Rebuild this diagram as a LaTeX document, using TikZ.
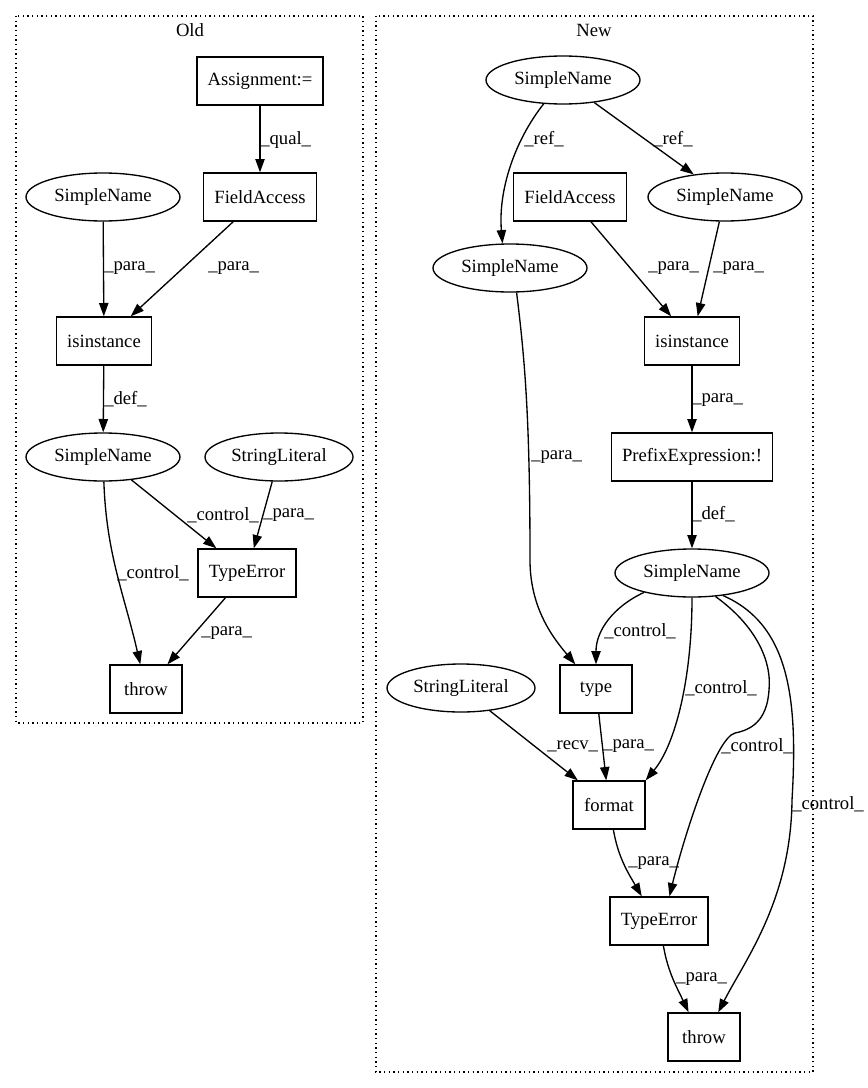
\documentclass[tikz,border=0pt]{standalone}
\usepackage{fontspec}
\setmainfont{Liberation Serif}
\usetikzlibrary{shapes.geometric,arrows.meta}

\begin{document}
\begin{tikzpicture}[x=0.75pt,y=-0.75pt,font=\fontsize{14pt}{16pt}\selectfont,
  box/.style={draw,rectangle,line width=1pt,minimum width=54pt,minimum height=36pt,inner xsep=8pt,inner ysep=0pt},
  oval/.style={draw,ellipse,line width=1pt,minimum width=115.5pt,minimum height=36pt,inner sep=0pt},
  edge/.style={line width=1pt,-{Triangle[length=10pt,width=7pt]}},
  lbl/.style={anchor=west,inner sep=0pt},
  cluster/.style={line width=1pt,dash pattern=on 1pt off 2.5pt}]
\useasboundingbox (0,0) rectangle (867,1088);
\draw[cluster] (16,16) rectangle (363,723);
\draw[cluster] (376,16) rectangle (813,1072);
\node (old) at (190,30) {Old};
\node (new) at (594,30) {New};
% old version
\node[box] (asgO) at (260,81) {Assignment:=};
\node[box] (faO) at (260,197) {FieldAccess};
\node[oval] (snO1) at (103,197) {SimpleName};
\node[box] (isO) at (104,341) {isinstance};
\node[oval] (snO2) at (103,457) {SimpleName};
\node[oval,minimum width=111pt] (slO) at (279,457) {StringLiteral};
\node[box] (teO) at (247,573) {TypeError};
\node[box] (thrO) at (146,689) {throw};
\draw[edge] (asgO) -- (faO);
\draw[edge] (snO1) -- (isO);
\draw[edge] (faO) -- (isO);
\draw[edge] (isO) -- (snO2);
\draw[edge] (snO2) -- (teO);
\draw[edge] (slO) -- (teO);
\draw[edge] (snO2) to[out=-88,in=103] (thrO);
\draw[edge] (teO) -- (thrO);
\node[lbl] (lqual) at (260,140) {\_qual\_};
\node[lbl] (lpO1) at (104,268) {\_para\_};
\node[lbl] (lpO2) at (208,268) {\_para\_};
\node[lbl] (ldefO) at (104,399) {\_def\_};
\node[lbl] (lcO1) at (187,515) {\_control\_};
\node[lbl] (lpO3) at (263,515) {\_para\_};
\node[lbl] (lcO2) at (117,573) {\_control\_};
\node[lbl] (lpO4) at (201,633) {\_para\_};
% new version
\node[oval] (snT) at (563,80) {SimpleName};
\node[box] (faN) at (570,197) {FieldAccess};
\node[oval] (snR) at (725,197) {SimpleName};
\node[oval] (snL) at (510,268) {SimpleName};
\node[box] (isN) at (692,341) {isinstance};
\node[box] (pre) at (692,457) {PrefixExpression:!};
\node[oval] (snB) at (692,573) {SimpleName};
\node[box] (typ) at (596,689) {type};
\node[oval,minimum width=111pt] (slN) at (461,688) {StringLiteral};
\node[box] (fmt) at (609,805) {format};
\node[box] (teN) at (659,921) {TypeError};
\node[box] (thrN) at (704,1037) {throw};
\draw[edge] (snT.-129) .. controls (515,140) and (498,190) .. (snL.107);
\draw[edge] (snT) -- (snR);
\draw[edge] (faN) -- (isN);
\draw[edge] (snR) -- (isN);
\draw[edge] (isN) -- (pre);
\draw[edge] (snL.-75) .. controls (525,360) and (530,420) .. (530,560)
  .. controls (530,610) and (555,640) .. (typ.130);
\draw[edge] (pre) -- (snB);
\draw[edge] (snB.-158) to[out=-155,in=90] (typ.north);
\draw[edge] (snB.south) .. controls (692,680) and (675,745) .. (fmt.north east);
\draw[edge] (snB.-45) .. controls (755,625) and (772,660) .. (769,690)
  .. controls (767,722) and (750,730) .. (735,733)
  .. controls (715,738) and (683,840) .. (teN.67);
\draw[edge] (snB.-36) .. controls (790,625) and (798,700) .. (792,800)
  .. controls (791,900) and (745,960) .. (thrN.60);
\draw[edge] (slN) -- (fmt);
\draw[edge] (typ) -- (fmt);
\draw[edge] (fmt.-80) to[out=-80,in=120] (teN.125);
\draw[edge] (teN.-80) to[out=-80,in=115] (thrN.122);
\node[lbl] (lrefL) at (524,139) {\_ref\_};
\node[lbl] (lrefR) at (653,139) {\_ref\_};
\node[lbl] (lpN1) at (648,268) {\_para\_};
\node[lbl] (lpN2) at (713,268) {\_para\_};
\node[lbl] (lpN3) at (692,400) {\_para\_};
\node[lbl] (lpN4) at (531,457) {\_para\_};
\node[lbl] (ldefN) at (692,514) {\_def\_};
\node[lbl] (lcN1) at (604,631) {\_control\_};
\node[lbl] (lcN2) at (685,688) {\_control\_};
\node[lbl] (lcN3) at (721,746) {\_control\_};
\node[lbl] (lrecv) at (547,746) {\_recv\_};
\node[lbl] (lpN5) at (603,746) {\_para\_};
\node[lbl] (lcN4) at (792,804) {\_control\_};
\node[lbl] (lpN6) at (628,863) {\_para\_};
\node[lbl] (lpN7) at (676,979) {\_para\_};
\end{tikzpicture}
\end{document}
